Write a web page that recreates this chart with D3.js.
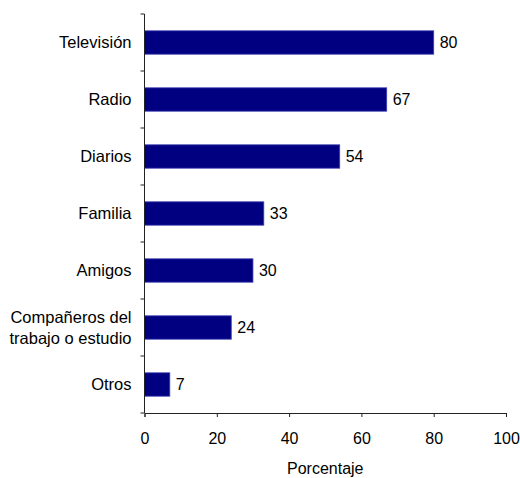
<!DOCTYPE html>
<html>
<head>
<meta charset="utf-8">
<script src="https://cdn.jsdelivr.net/npm/d3@7"></script>
<style>
    body { margin: 0; background: #fff; }
    text { font-family: "Liberation Sans", Arial, sans-serif; fill: #000; }
</style>
</head>
<body>
<div id="chart"></div>
<script>
const categories = ['Televisión', 'Radio', 'Diarios', 'Familia', 'Amigos', 'Compañeros del\ntrabajo o estudio', 'Otros']
const values = [80, 67, 54, 33, 30, 24, 7]
const xTicks = [0, 20, 40, 60, 80, 100]
const xTitle = 'Porcentaje'

const width = 520
const height = 478
const plotLeft = 144.5
const plotRight = 506
const plotTop = 14
const plotBottom = 413
const fontSize = '16px'

const svg = d3.select('#chart')
    .append('svg')
    .attr('width', width)
    .attr('height', height)

const xScale = d3.scaleLinear().domain([0, 100]).range([plotLeft, plotRight])
const yScale = d3.scaleBand().domain(categories).range([plotTop, plotBottom])
    .paddingInner(0.59).paddingOuter(0.295)

// bars
svg.selectAll('rect.bar')
    .data(values)
    .enter()
    .append('rect')
    .attr('class', 'bar')
    .attr('x', xScale(0))
    .attr('y', (d, i) => yScale(categories[i]))
    .attr('width', (d) => xScale(d) - xScale(0))
    .attr('height', yScale.bandwidth())
    .attr('fill', '#000080')
    .attr('stroke', '#3d3db5')
    .attr('stroke-width', 0.8)

// value labels
svg.selectAll('text.val')
    .data(values)
    .enter()
    .append('text')
    .attr('class', 'val')
    .attr('x', (d) => xScale(d) + 6)
    .attr('y', (d, i) => yScale(categories[i]) + yScale.bandwidth() / 2)
    .attr('dy', '0.36em')
    .style('font-size', fontSize)
    .text((d) => d)

// y axis (ticks between categories)
const step = yScale.step()
svg.append('line')
    .attr('x1', plotLeft).attr('x2', plotLeft)
    .attr('y1', plotTop).attr('y2', plotBottom)
    .attr('stroke', '#222').attr('stroke-width', 1)
svg.selectAll('line.ytick')
    .data(d3.range(categories.length + 1))
    .enter()
    .append('line')
    .attr('class', 'ytick')
    .attr('x1', plotLeft - 4).attr('x2', plotLeft)
    .attr('y1', (d) => plotTop + d * step).attr('y2', (d) => plotTop + d * step)
    .attr('stroke', '#222').attr('stroke-width', 1)

// category labels
const catLabels = svg.selectAll('text.cat')
    .data(categories)
    .enter()
    .append('text')
    .attr('class', 'cat')
    .attr('text-anchor', 'end')
    .style('font-size', '16.5px')
    .attr('transform', (d) => `translate(${plotLeft - 13}, ${yScale(d) + yScale.bandwidth() / 2})`)
catLabels.each(function (d) {
    const lines = d.split('\n')
    const t = d3.select(this)
    lines.forEach((ln, j) => {
        t.append('tspan')
            .attr('x', 0)
            .attr('y', (j - (lines.length - 1) / 2) * 21.5)
            .attr('dy', '0.36em')
            .text(ln)
    })
})

// x axis
const xAxis = d3.axisBottom(xScale).tickValues(xTicks).tickSize(4).tickPadding(16)
const gx = svg.append('g')
    .attr('transform', `translate(0, ${plotBottom})`)
    .call(xAxis)
gx.select('.domain').attr('stroke', '#222')
gx.selectAll('.tick line').attr('stroke', '#222')
gx.selectAll('.tick text')
    .style('font-size', fontSize)
    .style('font-family', '"Liberation Sans", Arial, sans-serif')
    .attr('fill', '#000')

svg.append('text')
    .attr('x', (plotLeft + plotRight) / 2)
    .attr('y', 474)
    .attr('text-anchor', 'middle')
    .style('font-size', fontSize)
    .text(xTitle)
</script>
</body>
</html>
